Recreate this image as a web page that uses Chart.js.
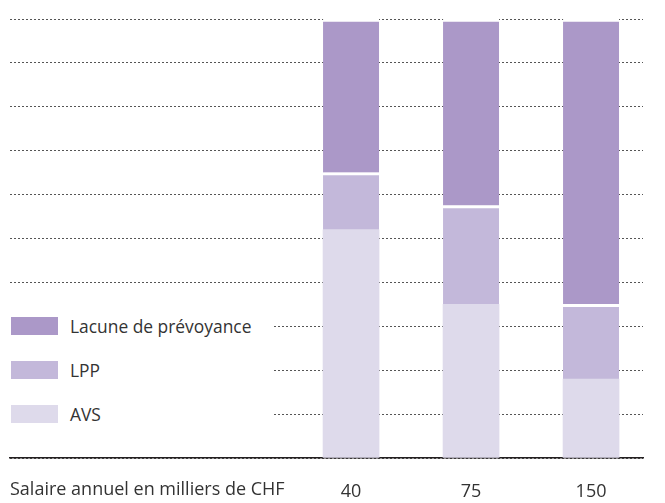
<!DOCTYPE html>
<html>
<head>
<meta charset="utf-8">
<script src="https://cdn.jsdelivr.net/npm/chart.js@4/dist/chart.umd.min.js"></script>
<style>
  body { margin: 0; background: #fff; }
  #wrap { position: relative; width: 665px; height: 503px; }
  #legend { position: absolute; left: 0; top: 304px; width: 274px; height: 132px; background: #fff;
            font-family: "Open Sans", sans-serif; font-size: 17.4px; color: #333; }
  .item { height: 44px; display: flex; align-items: center; position: absolute; left: 11px; }
  .box { width: 47px; height: 18px; margin-right: 12px; }
</style>
</head>
<body>
<div id="wrap">
  <canvas id="chart" width="665" height="503"></canvas>
  <div id="legend"></div>
</div>
<script>
/* Salaire annuel en milliers de CHF, parts en % du revenu */
const salaries = ["40", "75", "150"];
const avs = [52, 35, 18];
const lpp = [13, 22.5, 17];
const lacune = [35, 42.5, 65];
const seriesNames = ["AVS", "LPP", "Lacune de prévoyance"];
const seriesColours = ["#dedaeb", "#c3b8da", "#ab98c8"];
const axisTitle = "Salaire annuel en milliers de CHF";

function points(values) {
    return values.map((v, i) => ({ x: i, y: v }));
}

const fontFamily = '"Open Sans", sans-serif';

// axis title drawn on the tick label line, at the left
const axisTitlePlugin = {
    id: "axisTitle",
    afterDraw(chart) {
        const ctx = chart.ctx;
        ctx.save();
        ctx.font = "18px " + fontFamily;
        ctx.fillStyle = "#333";
        ctx.textBaseline = "middle";
        ctx.textAlign = "left";
        ctx.fillText(axisTitle, 10, 490);
        ctx.restore();
    }
};

new Chart(document.getElementById("chart"), {
    type: "bar",
    data: {
        datasets: [
            { label: seriesNames[0], data: points(avs), backgroundColor: seriesColours[0],
              borderWidth: 0 },
            { label: seriesNames[1], data: points(lpp), backgroundColor: seriesColours[1],
              borderColor: "#fff", borderWidth: { top: 3 }, borderSkipped: "start" },
            { label: seriesNames[2], data: points(lacune), backgroundColor: seriesColours[2],
              borderColor: "#fff", borderWidth: { top: 3 }, borderSkipped: "start" }
        ]
    },
    options: {
        responsive: false,
        animation: false,
        layout: { padding: { left: 10, right: 22, top: 19, bottom: 0 } },
        plugins: {
            legend: { display: false },
            title: { display: false },
            tooltip: { enabled: false }
        },
        datasets: { bar: { barThickness: 56 } },
        scales: {
            x: {
                type: "linear",
                stacked: true,
                offset: false,
                min: -2.842,
                max: 2.433,
                afterBuildTicks: scale => { scale.ticks = salaries.map((s, i) => ({ value: i })); },
                afterFit: scale => { scale.height = 45; },
                ticks: {
                    callback: v => salaries[v],
                    font: { family: fontFamily, size: 18 },
                    color: "#333",
                    padding: 15,
                    maxRotation: 0
                },
                grid: { display: false },
                border: { display: true, color: "#231f20", width: 1.5 }
            },
            y: {
                stacked: true,
                min: 0,
                max: 100,
                ticks: { display: false, stepSize: 10 },
                grid: { color: "#555", lineWidth: 1, drawTicks: false, tickLength: 0 },
                border: { display: false, dash: [2, 2] }
            }
        }
    },
    plugins: [axisTitlePlugin]
});

// legend on the left, covering the grid lines
const legend = document.getElementById("legend");
[2, 1, 0].forEach((k, row) => {
    const item = document.createElement("div");
    item.className = "item";
    item.style.top = (row * 44) + "px";
    const box = document.createElement("div");
    box.className = "box";
    box.style.background = seriesColours[k];
    const label = document.createElement("span");
    label.textContent = seriesNames[k];
    item.appendChild(box);
    item.appendChild(label);
    legend.appendChild(item);
});
</script>
</body>
</html>
